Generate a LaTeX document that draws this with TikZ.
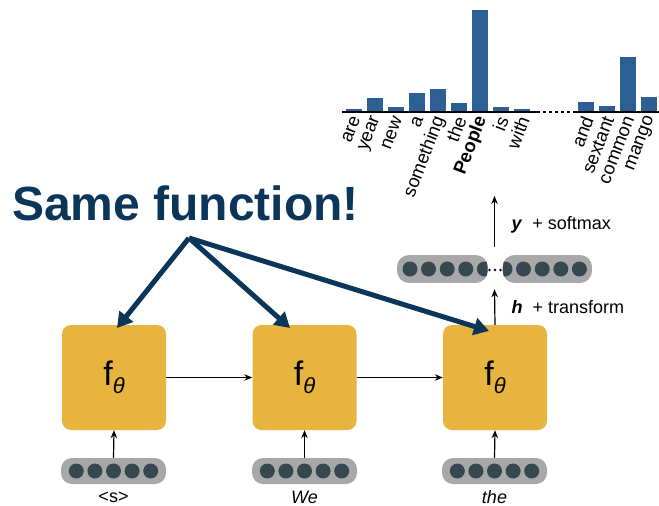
\documentclass[tikz,border=0pt]{standalone}
\usepackage{fontspec}
\setmainfont{Liberation Sans}
\usetikzlibrary{arrows.meta}
\definecolor{gold}{HTML}{E6B43F}
\definecolor{vecgray}{HTML}{A8A8A8}
\definecolor{dotc}{HTML}{37474F}
\definecolor{navy}{HTML}{0B3559}
\definecolor{barblue}{HTML}{2C5F94}
\tikzset{
  fbox/.style={fill=gold, rounded corners=9pt, minimum width=104pt, minimum height=105pt, inner sep=0pt},
  vecbar/.style={fill=vecgray, rounded corners=11pt, minimum width=105pt, minimum height=26pt, inner sep=0pt},
  unit/.style={fill=dotc, circle, minimum size=15pt, inner sep=0pt},
  thin arrow/.style={-{Stealth[length=8pt,width=6.5pt]}, line width=1.2pt, black},
  big arrow/.style={-{Triangle[length=15pt,width=17pt]}, line width=5pt, navy},
  word/.style={font=\fontsize{18}{18}\selectfont, inner sep=0pt},
  lab/.style={rotate=69, anchor=east, inner sep=0pt, font=\fontsize{18.5}{18.5}\selectfont}
}
\newcommand{\ftheta}{{\fontsize{34}{34}\selectfont f\raisebox{-8pt}{\fontsize{22}{22}\selectfont\itshape θ}}}
\begin{document}
\begin{tikzpicture}[x=1pt,y=-1pt]
\useasboundingbox (0,0) rectangle (659,506);

% boxes
\node[fbox] (f1) at (114,377.5) {\ftheta};
\node[fbox] (f2) at (304.5,377.5) {\ftheta};
\node[fbox] (f3) at (495,377.5) {\ftheta};

% input vectors
\foreach \i/\cx in {1/113.5, 2/304.5, 3/494.5}{
  \node[vecbar] (v\i) at (\cx,471) {};
  \foreach \k in {-2,...,2}{
    \node[unit] at (\cx+\k*18.6,471) {};
  }
}
\node[word] (w1) at (113.5,497) {<s>};
\node[word, font=\fontsize{18}{18}\selectfont\itshape] (w2) at (304.5,497) {We};
\node[word, font=\fontsize{18}{18}\selectfont\itshape] (w3) at (494.5,497) {the};

\draw[thin arrow] (v1.north) -- (f1.south);
\draw[thin arrow] (v2.north) -- (f2.south);
\draw[thin arrow] (v3.north) -- (f3.south);
\draw[thin arrow] (f1.east) -- (f2.west);
\draw[thin arrow] (f2.east) -- (f3.west);

% hidden vector
\node[minimum width=195pt, minimum height=28pt, inner sep=0pt] (h) at (494.5,269) {};
\begin{scope}
  \clip[rounded corners=12pt] (397,255) -- (487.7,255) -- (487.7,283) -- (397,283) -- cycle;
  \fill[vecgray] (397,255) rectangle (487.7,283);
  \foreach \x in {410,428.5,447.2,465.8,484.4}{\fill[dotc] (\x,269) circle (7.5pt);}
\end{scope}
\begin{scope}
  \clip[rounded corners=12pt] (502.7,255) -- (592,255) -- (592,283) -- (502.7,283) -- cycle;
  \fill[vecgray] (502.7,255) rectangle (592,283);
  \foreach \x in {505,523.5,542.2,560.8,579.4}{\fill[dotc] (\x,269) circle (7.5pt);}
\end{scope}
\foreach \x in {489.5,495,500.5}{\fill[black] (\x,270) circle (1.3pt);}

\coordinate (htop) at (494.5,247);
\coordinate (ctip) at (494.5,196);
\draw[thin arrow] (f3.north) -- ([yshift=-6pt]h.south);
\draw[thin arrow] (htop) -- (ctip);
\node[anchor=west, font=\fontsize{18}{18}\selectfont] (ylab) at (508,225) {\textbf{\textit{y}}\ \ + softmax};
\node[anchor=west, font=\fontsize{18}{18}\selectfont] (hlab) at (508,307) {\textbf{\textit{h}}\ \ + transform};

% bar chart
\draw[line width=1.4pt] (342,112) -- (537,112);
\draw[line width=1.4pt, dash pattern=on 3pt off 3pt] (537,112) -- (575,112);
\draw[line width=1.4pt] (575,112) -- (659,112);
\foreach \xl/\top in {346/109, 367/98, 388/107, 409/93, 430/89, 451/103, 472/10, 493/107, 514/109, 578/102, 599/106, 620/57, 641/97}{
  \fill[barblue] (\xl,\top) rectangle (\xl+16,111.3);
}
\foreach \cx/\w in {354/are, 375/year, 396/new, 417/a, 438/something, 459/the, 501/is, 522/with, 586/and, 607/sextant, 628/common, 649/mango}{
  \node[lab] at (\cx+2,117) {\w};
}
\node[lab, font=\fontsize{18.5}{18.5}\selectfont\bfseries] at (482,117) {People};

% title and shared arrows
\node[anchor=base west, inner sep=0pt, text=navy, font=\fontsize{48}{48}\selectfont\bfseries] (title) at (12,220) {Same function!};
\coordinate (apex) at (189,238);
\coordinate (t1) at (117,328);
\coordinate (t2) at (290,328);
\coordinate (t3) at (489,331);
\draw[big arrow] (apex) -- (t1);
\draw[big arrow] (apex) -- (t2);
\draw[big arrow] (apex) -- (t3);
\end{tikzpicture}
\end{document}
